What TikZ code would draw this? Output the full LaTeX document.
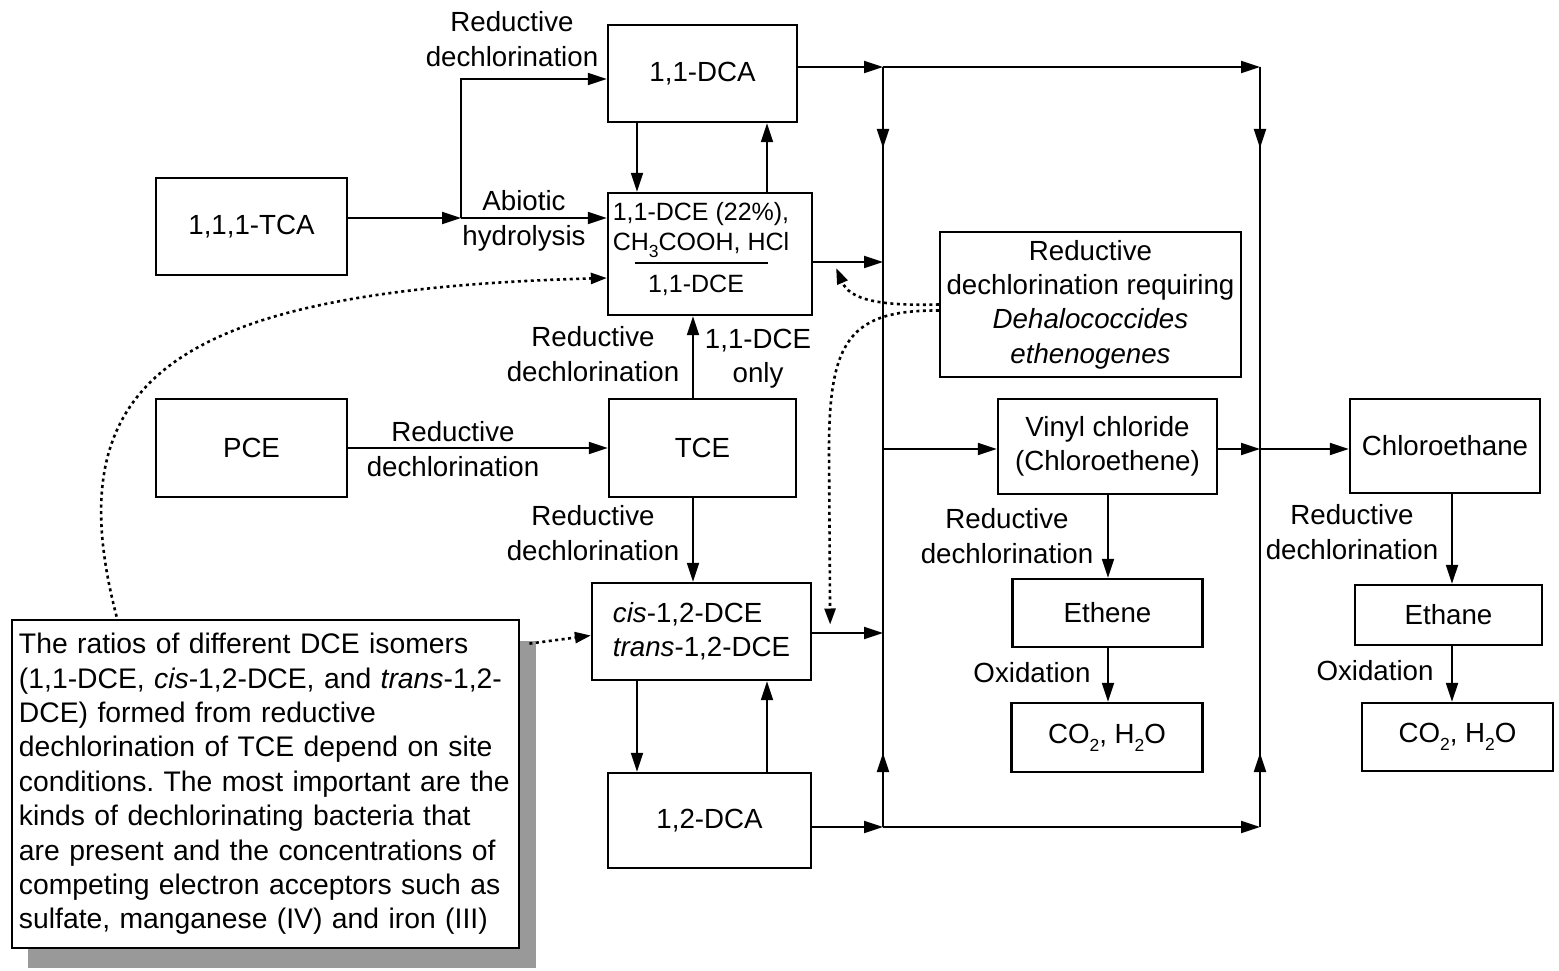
\documentclass[tikz,border=0pt]{standalone}
\usepackage{fontspec}
\setmainfont{Liberation Sans}
\usetikzlibrary{arrows.meta,calc}
\newcommand\mysub[1]{\raisebox{-0.28em}{\fontsize{17.5}{17.5}\selectfont #1}}
\frenchspacing
\begin{document}
\begin{tikzpicture}[x=1pt,y=-1pt,
  every node/.style={font=\fontsize{27.7}{34.4}\selectfont},
  box/.style={draw, line width=2.3pt, inner sep=0pt, align=center},
  lbl/.style={align=center, inner sep=0pt},
  small/.style={inner sep=0pt, anchor=base, font=\fontsize{25}{29}\selectfont},
  arr/.style={line width=2pt, -{Triangle[length=19pt,width=12pt]}},
  ln/.style={line width=2pt},
  dotarr/.style={line width=2.6pt, dash pattern=on 3pt off 3.5pt, -{Triangle[length=16pt,width=11pt]}}
]
\useasboundingbox (0,0) rectangle (1559,971);

% helper coordinates (columns and rows)
\coordinate (xj) at (461,0);
\coordinate (xa) at (637,0);
\coordinate (xb) at (767,0);
\coordinate (xc) at (693,0);
\coordinate (xL) at (883,0);
\coordinate (xR) at (1260,0);
\coordinate (xv) at (1108,0);
\coordinate (xe) at (1452,0);
\coordinate (yt) at (0,67);
\coordinate (yb) at (0,827);
\coordinate (y79) at (0,79);
\coordinate (y218) at (0,218);
\coordinate (y262) at (0,262);
\coordinate (y449) at (0,449);
\coordinate (y633) at (0,633);
\coordinate (ydn) at (0,148);
\coordinate (yup) at (0,753);

% boxes
\node[box, minimum width=189pt, minimum height=97pt] (dca11) at (702.5,73.5) {1,1-DCA};
\node[box, minimum width=204pt, minimum height=122pt] (dce11) at (710,254) {};
\node[small] (dce11a) at (701,220) {1,1-DCE (22\%),};
\node[small] (dce11b) at (701,250) {CH\mysub{3}COOH, HCl};
\draw[ln] (635,263) -- (768,263);
\node[small] (dce11c) at (696,292) {1,1-DCE};
\node[box, minimum width=191pt, minimum height=97pt] (tca) at (251.5,226.5) {1,1,1-TCA};
\node[box, minimum width=191pt, minimum height=98pt] (pce) at (251.5,448) {PCE};
\node[box, minimum width=187pt, minimum height=98pt] (tce) at (702.5,448) {TCE};
\node[box, align=left, minimum width=219pt, minimum height=97pt] (dce12) at (701.5,631.5) {\textit{cis}-1,2-DCE\\\textit{trans}-1,2-DCE};
\node[box, minimum width=203pt, minimum height=95pt] (dca12) at (709.5,820.5) {1,2-DCA};
\node[box, minimum width=301pt, minimum height=145pt] (dhc) at (1090.5,304.5) {Reductive\\dechlorination requiring\\\textit{Dehalococcides}\\\textit{ethenogenes}};
\node[box, minimum width=219pt, minimum height=95pt] (vc) at (1107.5,446.5) {Vinyl chloride\\(Chloroethene)};
\node[box, minimum width=190pt, minimum height=94pt] (ca) at (1445,446) {Chloroethane};
\node[box, minimum width=190pt, minimum height=68pt] (ethene) at (1107.5,613) {Ethene};
\node[box, minimum width=191pt, minimum height=69pt] (co2a) at (1107,737.5) {CO\mysub{2}, H\mysub{2}O};
\node[box, minimum width=187pt, minimum height=60pt] (ethane) at (1448.5,615) {Ethane};
\node[box, minimum width=191pt, minimum height=68pt] (co2b) at (1457.5,737) {CO\mysub{2}, H\mysub{2}O};

% note with shadow
\fill[black!40] (28,641) rectangle (536,968);
\node[box, line width=2.8pt, fill=white, align=left, text width=493pt, minimum height=328pt, inner xsep=7pt,
      font=\fontsize{28.3}{34.4}\selectfont] (note) at (265.5,784)
{The ratios of different DCE isomers\\(1,1-DCE, \textit{cis}-1,2-DCE, and \textit{trans}-1,2-\\DCE) formed from reductive\\dechlorination of TCE depend on site\\conditions. The most important are the\\kinds of dechlorinating bacteria that\\are present and the concentrations of\\competing electron acceptors such as\\sulfate, manganese (IV) and iron (III)};

% labels
\node[lbl] (l1) at (512,39) {Reductive\\dechlorination};
\node[lbl] (l2) at (524,221) {Abiotic\\hydrolysis};
\node[lbl] (l3) at (593,354) {Reductive\\dechlorination};
\node[lbl] (l4) at (758,359) {1,1-DCE\\only};
\node[lbl] (l5) at (453,449) {Reductive\\dechlorination};
\node[lbl] (l6) at (593,533) {Reductive\\dechlorination};
\node[lbl] (l7) at (1007,536) {Reductive\\dechlorination};
\node[lbl] (l8) at (1032,673) {Oxidation};
\node[lbl] (l9) at (1352,532) {Reductive\\dechlorination};
\node[lbl] (l10) at (1375,671) {Oxidation};

% connectors, left part
\draw[arr] (tca.east |- y218) -- (xj |- y218);
\draw[arr] (xj |- y218) -- (dce11.west |- y218);
\draw[arr] (xj |- y218) -- (xj |- y79) -- (dca11.west |- y79);
\draw[arr] (dca11.south -| xa) -- (dce11.north -| xa);
\draw[arr] (dce11.north -| xb) -- (dca11.south -| xb);
\draw[arr] (tce.north -| xc) -- (dce11.south -| xc);
\draw[arr] (pce.east) -- (tce.west);
\draw[arr] (tce.south -| xc) -- (dce12.north -| xc);
\draw[arr] (dce12.south -| xa) -- (dca12.north -| xa);
\draw[arr] (dca12.north -| xb) -- (dce12.south -| xb);

% trunks
\draw[ln] (xL |- yt) -- (xL |- yb);
\draw[ln] (xR |- yt) -- (xR |- yb);
\draw[arr] (dca11.east |- yt) -- (xL |- yt);
\draw[arr] (xL |- yt) -- (xR |- yt);
\draw[arr] (xL |- yt) -- (xL |- ydn);
\draw[arr] (xL |- yb) -- (xL |- yup);
\draw[arr] (xR |- yt) -- (xR |- ydn);
\draw[arr] (xR |- yb) -- (xR |- yup);
\draw[arr] (dce11.east |- y262) -- (xL |- y262);
\draw[arr] (dce12.east |- y633) -- (xL |- y633);
\draw[arr] (dca12.east |- yb) -- (xL |- yb);
\draw[arr] (xL |- yb) -- (xR |- yb);

% right part
\draw[arr] (xL |- y449) -- (vc.west |- y449);
\draw[arr] (vc.east |- y449) -- (xR |- y449);
\draw[arr] (xR |- y449) -- (ca.west |- y449);
\draw[arr] (vc.south -| xv) -- (ethene.north -| xv);
\draw[arr] (ethene.south -| xv) -- (co2a.north -| xv);
\draw[arr] (ca.south -| xe) -- (ethane.north -| xe);
\draw[arr] (ethane.south -| xe) -- (co2b.north -| xe);

% dotted influences
\draw[dotarr] ($(note.north west)+(106,-2)$) .. controls (55,380) and (170,290) .. ($(dce11.west)+(0,24)$);
\draw[dotarr] ($(dhc.west)+(0,0)$) .. controls (880,306) and (850,300) .. ($(dce11.east)+(23,14)$);
\draw[dotarr] ($(dhc.west)+(0,6)$) .. controls (850,310) and (829,340) .. (829,450) -- ($(dce12.east)+(18,-7)$);
\draw[dotarr] ($(note.north east)+(9,25)$) -- ($(dce12.west)+(0,4)$);
\end{tikzpicture}
\end{document}
